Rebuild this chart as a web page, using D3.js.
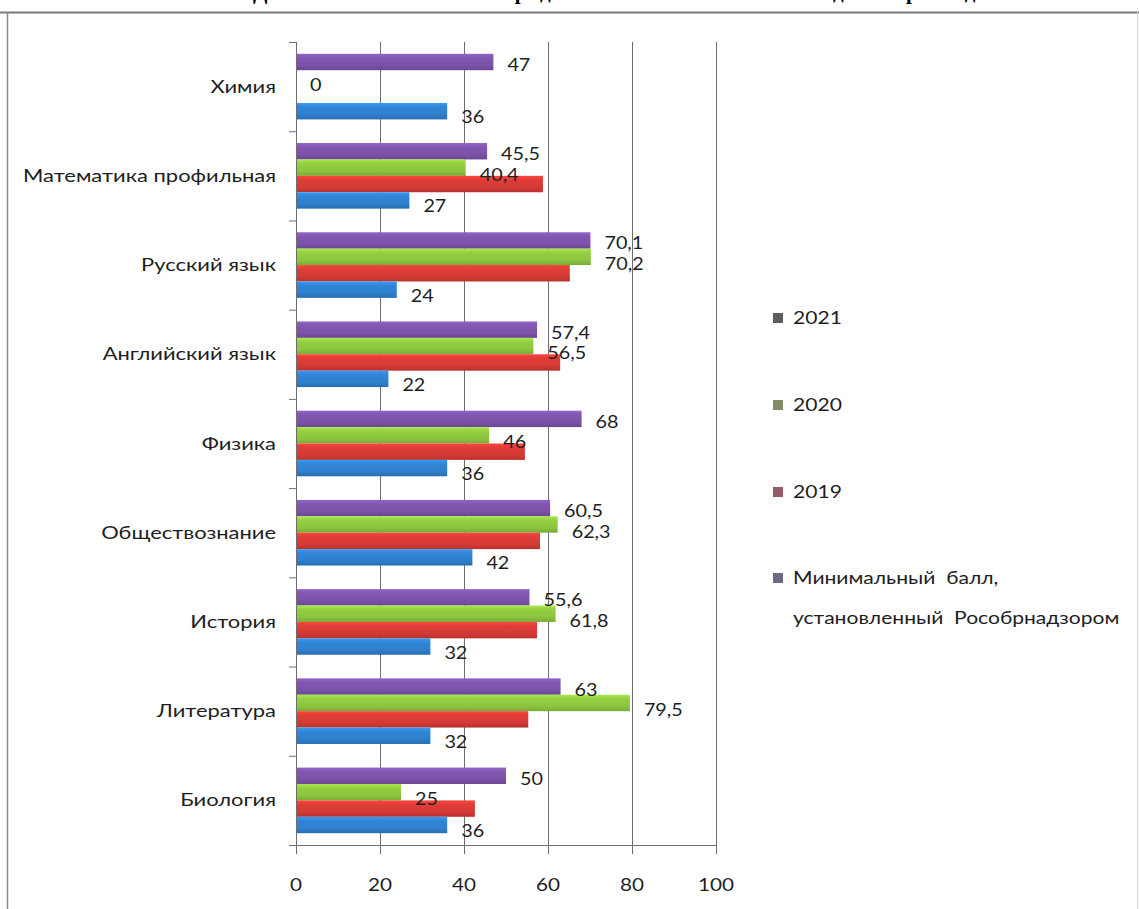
<!DOCTYPE html>
<html>
<head>
<meta charset="utf-8">
<script src="https://cdn.jsdelivr.net/npm/d3@7"></script>
<style>
  html, body { margin: 0; padding: 0; background: #fff; }
  svg { display: block; }
  text { white-space: pre; }
</style>
</head>
<body>
<svg id="chart" width="1139" height="909"></svg>
<script>
// ---------- data ----------
const titleText = "Динамика изменения среднего балла ЕГЭ за последние три года";
const categories = ["Химия", "Математика профильная", "Русский язык", "Английский язык",
  "Физика", "Обществознание", "История", "Литература", "Биология"];
const seriesKeys = ["2021", "2020", "2019", "min"];
const legendLabels = ["2021", "2020", "2019", "Минимальный  балл,|установленный  Рособрнадзором"];
const values2021 = [47, 45.5, 70.1, 57.4, 68, 60.5, 55.6, 63, 50];
const values2020 = [0, 40.4, 70.2, 56.5, 46, 62.3, 61.8, 79.5, 25];
const values2019 = [null, 58.8, 65.2, 62.9, 54.5, 58.1, 57.4, 55.3, 42.6];
const valuesMin = [36, 27, 24, 22, 36, 42, 32, 32, 36];
const labelledSeries = ["2021", "2020", "min"];
const xTicks = [0, 20, 40, 60, 80, 100];

// ---------- style ----------
const seriesColors = { "2021": "#7b52a8", "2020": "#8cc43e", "2019": "#d43a35", "min": "#2f7fcc" };
const legendColors = ["#5e5e5e", "#7f8c62", "#985a6b", "#6b6b86"];
const labelDy = { "2021": 9, "2020": 13, "min": 12 };
const textColor = "#1e1e1e";
const fontSans = "Lato, 'Open Sans', sans-serif";

const seriesData = { "2021": values2021, "2020": values2020, "2019": values2019, "min": valuesMin };

const svg = d3.select("#chart");

// helper: horizontally stretched text
function stext(parent, x, y, str, size, sx, anchor) {
  return parent.append("text")
    .attr("transform", `translate(${x},${y}) scale(${sx},1)`)
    .attr("text-anchor", anchor || "start")
    .attr("font-family", fontSans)
    .attr("font-size", size)
    .attr("fill", textColor)
    .text(str);
}

// frame + cropped title
svg.append("text")
  .attr("x", 253).attr("y", -1.5)
  .attr("font-family", "'Liberation Serif', 'Times New Roman', serif")
  .attr("font-weight", "bold").attr("font-size", 21)
  .attr("textLength", 735).attr("lengthAdjust", "spacing")
  .attr("fill", "#000").text(titleText);
svg.append("line").attr("x1", 0).attr("x2", 1139).attr("y1", 12.5).attr("y2", 12.5)
  .attr("stroke", "#7a7a7a").attr("stroke-width", 2);
svg.append("line").attr("x1", 7.5).attr("x2", 7.5).attr("y1", 12).attr("y2", 909)
  .attr("stroke", "#8a8a8a").attr("stroke-width", 1.5);
svg.append("line").attr("x1", 1137.5).attr("x2", 1137.5).attr("y1", 12).attr("y2", 909)
  .attr("stroke", "#d8d8d8").attr("stroke-width", 1);

// scales
const x = d3.scaleLinear().domain([0, 100]).range([296, 716]);
const y = d3.scaleBand().domain(categories).range([42, 845]).padding(0);
const yInner = d3.scaleBand().domain(seriesKeys).range([0, y.bandwidth()]).paddingInner(0).paddingOuter(0.72);

// gradients
const defs = svg.append("defs");
seriesKeys.forEach(k => {
  const c = d3.color(seriesColors[k]);
  const g = defs.append("linearGradient").attr("id", "grad-" + k)
    .attr("x1", 0).attr("x2", 0).attr("y1", 0).attr("y2", 1);
  g.append("stop").attr("offset", "0%").attr("stop-color", c.brighter(0.5));
  g.append("stop").attr("offset", "25%").attr("stop-color", c.brighter(0.15));
  g.append("stop").attr("offset", "70%").attr("stop-color", c);
  g.append("stop").attr("offset", "100%").attr("stop-color", c.darker(0.4));
});

// gridlines
svg.append("g").selectAll("line").data(xTicks.filter(d => d > 0)).join("line")
  .attr("x1", d => x(d) + 0.5).attr("x2", d => x(d) + 0.5)
  .attr("y1", 42).attr("y2", 845)
  .attr("stroke", "#6e6e6e").attr("stroke-width", 1);

// bars
const rows = [];
categories.forEach((c, i) => {
  seriesKeys.forEach(k => {
    const v = seriesData[k][i];
    if (v !== null && v !== undefined) rows.push({ cat: c, key: k, value: v });
  });
});
svg.append("g").selectAll("rect").data(rows).join("rect")
  .attr("x", x(0))
  .attr("y", d => y(d.cat) + yInner(d.key))
  .attr("width", d => x(d.value) - x(0))
  .attr("height", yInner.bandwidth())
  .attr("fill", d => `url(#grad-${d.key})`);

// value labels
const fmt = v => String(v).replace(".", ",");
const labelG = svg.append("g");
rows.filter(d => labelledSeries.includes(d.key)).forEach(d => {
  stext(labelG, x(d.value) + 14, y(d.cat) + yInner(d.key) + yInner.bandwidth() / 2 + labelDy[d.key],
    fmt(d.value), 18, 1.1, "start");
});

// y axis
svg.append("line").attr("x1", 296.5).attr("x2", 296.5).attr("y1", 42).attr("y2", 845)
  .attr("stroke", "#6e6e6e");
const yBounds = categories.map(c => y(c)).concat([845]);
svg.append("g").selectAll("line").data(yBounds).join("line")
  .attr("x1", 289).attr("x2", 296).attr("y1", d => d + 0.5).attr("y2", d => d + 0.5)
  .attr("stroke", "#6e6e6e");
const catG = svg.append("g");
categories.forEach(c => {
  stext(catG, 276, y(c) + y.bandwidth() / 2 + 6, c, 17, 1.29, "end");
});

// x axis
svg.append("line").attr("x1", 290).attr("x2", 716).attr("y1", 845.5).attr("y2", 845.5)
  .attr("stroke", "#6e6e6e");
svg.append("g").selectAll("line").data(xTicks).join("line")
  .attr("x1", d => x(d) + 0.5).attr("x2", d => x(d) + 0.5)
  .attr("y1", 845).attr("y2", 854)
  .attr("stroke", "#6e6e6e");
const xG = svg.append("g");
xTicks.forEach(t => stext(xG, x(t), 891, String(t), 18, 1.15, "middle"));

// legend
const legendY = [318, 405, 492, 578];
const legG = svg.append("g");
legendLabels.forEach((lab, i) => {
  legG.append("rect").attr("x", 773).attr("y", legendY[i] - 5).attr("width", 10).attr("height", 10)
    .attr("fill", legendColors[i]);
  lab.split("|").forEach((line, j) => {
    stext(legG, 793, legendY[i] + 6 + j * 40, line, 17, 1.24, "start");
  });
});
</script>
</body>
</html>
